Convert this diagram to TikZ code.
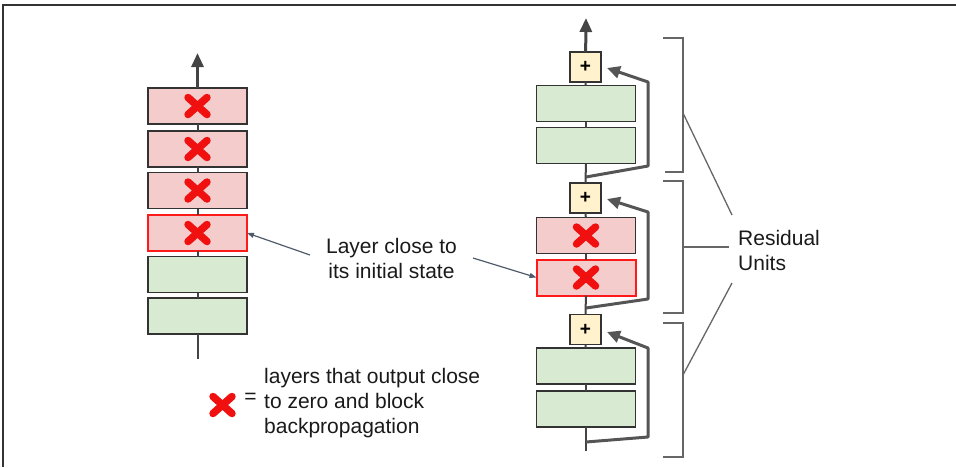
\documentclass[tikz,border=0pt]{standalone}
\usepackage{fontspec}
\setmainfont{Liberation Sans}
\usetikzlibrary{arrows.meta}
\definecolor{pinkfill}{HTML}{F4CCCC}
\definecolor{greenfill}{HTML}{D9EAD3}
\definecolor{plusfill}{HTML}{FFF2CC}
\definecolor{boxline}{HTML}{333333}
\definecolor{hotred}{HTML}{FF1A1A}
\definecolor{xred}{HTML}{F01010}
\definecolor{flowc}{HTML}{444444}
\definecolor{skipc}{HTML}{555555}
\definecolor{brk}{HTML}{666666}
\definecolor{pointer}{HTML}{4F5B6B}
\definecolor{txt}{HTML}{1A1A1A}
\begin{document}
\begin{tikzpicture}[x=1pt,y=-1pt,
  layer/.style={draw=boxline, line width=1.5pt, minimum width=99pt, minimum height=36pt, inner sep=0pt, outer sep=0pt},
  pinkL/.style={layer, fill=pinkfill},
  greenL/.style={layer, fill=greenfill},
  hotL/.style={layer, fill=pinkfill, draw=hotred, line width=2pt},
  plusbox/.style={draw=boxline, line width=1.2pt, fill=plusfill, minimum width=31pt, minimum height=30pt, inner sep=0pt, outer sep=0pt, font=\fontsize{19}{19}\selectfont\bfseries},
  flow/.style={draw=flowc, line width=2pt},
  flowarrow/.style={flow, line width=3pt, -{Triangle[length=14pt,width=12pt]}},
  skip/.style={draw=skipc, line width=3pt, line join=round, -{Triangle[length=13pt,width=12pt]}},
  bracket/.style={draw=brk, line width=1.5pt},
  pointerline/.style={draw=pointer, line width=1.2pt, -{Triangle[length=7pt,width=5pt]}},
  lbl/.style={text=txt, font=\fontsize{21}{25}\selectfont, inner sep=0pt},
  redx/.pic={\draw[xred, line width=7.5pt, line cap=round] (-9.5,-8.5) -- (9.5,8.5) (-9.5,8.5) -- (9.5,-8.5);}
]
\useasboundingbox (0,0) rectangle (956,467);
% frame
\draw[boxline, line width=2pt] (956,5) -- (3,5) -- (3,467);

% ---------- left column ----------
\node[pinkL]  (L1) at (197.5,106) {};
\node[pinkL]  (L2) at (197.5,149) {};
\node[pinkL]  (L3) at (197.5,190.5) {};
\node[hotL]   (L4) at (197.5,233) {};
\node[greenL] (L5) at (197.5,274.5) {};
\node[greenL] (L6) at (197.5,316) {};
\coordinate (Lin) at (197.5,359);
\coordinate (Lout) at (197.5,53);
\draw[flow] (Lin) -- (L6);
\draw[flow] (L6) -- (L5);
\draw[flow] (L5) -- (L4);
\draw[flow] (L4) -- (L3);
\draw[flow] (L3) -- (L2);
\draw[flow] (L2) -- (L1);
\draw[flowarrow] (L1) -- (Lout);
\pic at (L1) {redx};
\pic at (L2) {redx};
\pic at (L3) {redx};
\pic at (L4) {redx};

% ---------- right column ----------
\node[plusbox] (P1) at (585.5,67) {+};
\node[greenL]  (A1) at (586,103.5) {};
\node[greenL]  (A2) at (586,145.5) {};
\node[plusbox] (P2) at (585.5,198) {+};
\node[pinkL]   (R1) at (586,235.5) {};
\node[hotL]    (R2) at (586,277.5) {};
\node[plusbox] (P3) at (585.5,329.5) {+};
\node[greenL]  (B1) at (586,366) {};
\node[greenL]  (B2) at (586,409) {};
\coordinate (Rin) at (586,451);
\coordinate (Rout) at (586,18);
\draw[flow] (Rin) -- (B2);
\draw[flow] (B2) -- (B1);
\draw[flow] (B1) -- (P3);
\draw[flow] (P3) -- (R2);
\draw[flow] (R2) -- (R1);
\draw[flow] (R1) -- (P2);
\draw[flow] (P2) -- (A2);
\draw[flow] (A2) -- (A1);
\draw[flow] (A1) -- (P1);
\draw[flowarrow] (P1) -- (Rout);
\pic at (R1) {redx};
\pic at (R2) {redx};

% skip connections
\coordinate (J1) at (586,442);
\coordinate (T1) at (607,332);
\draw[skip] (J1) -- (648,437) -- (648,348) -- (T1);
\coordinate (J2) at (586,308);
\coordinate (T2) at (607,199);
\draw[skip] (J2) -- (648,299) -- (648,212) -- (T2);
\coordinate (J3) at (586,177);
\coordinate (T3) at (607,68);
\draw[skip] (J3) -- (648,166) -- (648,82) -- (T3);

% brackets
\draw[bracket] (663,38) -- (683,38) -- (683,172) -- (665,172);
\draw[bracket] (663,181) -- (683,181) -- (683,313) -- (663,313);
\draw[bracket] (663,323) -- (683,323) -- (683,457) -- (663,457);
\node[lbl, anchor=base west, align=left] (RU) at (738,270) {Residual\\Units};
\coordinate (U1) at (732,215);
\coordinate (U2) at (729,247);
\coordinate (U3) at (732,283);
\draw[bracket, line width=1.3pt] (683,113) -- (U1);
\draw[bracket, line width=1.3pt] (683,247) -- (U2);
\draw[bracket, line width=1.3pt] (683,375) -- (U3);

% layer label
\node[lbl, anchor=base, align=center] (LC) at (391.5,278) {Layer close to\\its initial state};
\coordinate (C1) at (310,255);
\coordinate (C2) at (473,258);
\draw[pointerline] (C1) -- (L4.east);
\draw[pointerline] (C2) -- (R2.west);

% legend
\pic at (222.5,405) {redx};
\node[lbl] (EQ) at (250.5,398) {=};
\node[lbl, anchor=base west, align=left] (LEG) at (264,433) {layers that output close\\to zero and block\\backpropagation};
\end{tikzpicture}
\end{document}
